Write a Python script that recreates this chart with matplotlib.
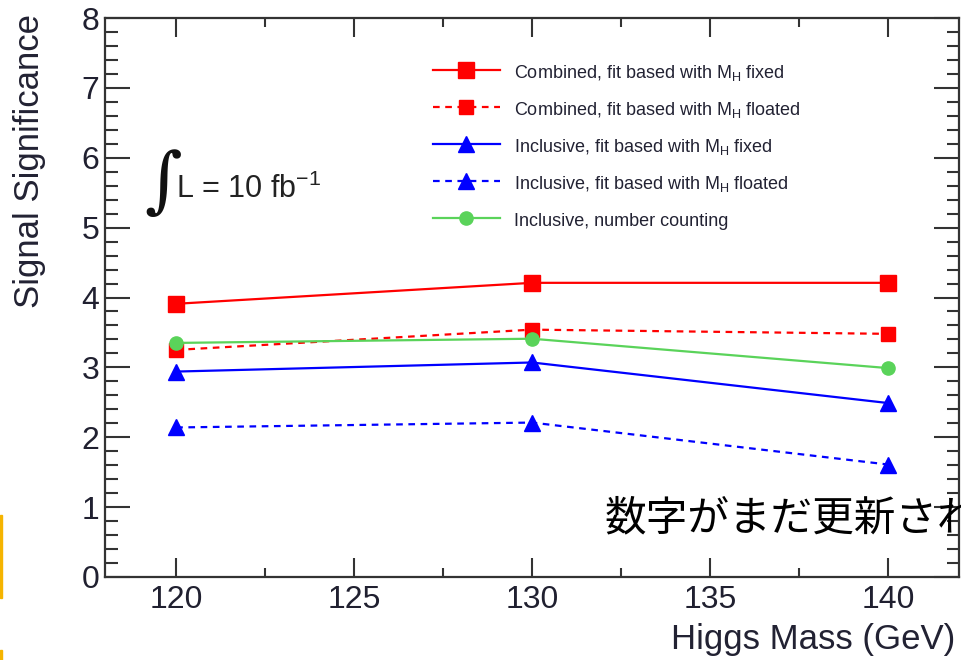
import numpy as np
import matplotlib
matplotlib.use("Agg")
import matplotlib.pyplot as plt
from matplotlib.ticker import MultipleLocator
from matplotlib.patches import Rectangle

# Higgs mass points (GeV)
mass = [120, 130, 140]

# signal significance per method
comb_fixed = [3.91, 4.21, 4.21]
comb_float = [3.25, 3.54, 3.48]
incl_fixed = [2.94, 3.07, 2.49]
incl_float = [2.14, 2.21, 1.61]
incl_count = [3.35, 3.41, 2.99]

labels = [
    r'Combined, fit based with M$_\mathregular{H}$ fixed',
    r'Combined, fit based with M$_\mathregular{H}$ floated',
    r'Inclusive, fit based with M$_\mathregular{H}$ fixed',
    r'Inclusive, fit based with M$_\mathregular{H}$ floated',
    'Inclusive, number counting',
]

plt.rcParams['font.family'] = ['Liberation Sans', 'DejaVu Sans']
plt.rcParams['mathtext.fontset'] = 'custom'
plt.rcParams['mathtext.rm'] = 'Liberation Sans'

W, H = 961, 660
fig = plt.figure(figsize=(W / 100, H / 100), dpi=100)
ax = fig.add_axes([105 / W, 1 - 577 / H, (959 - 105) / W, (577 - 18) / H])

dash = (0, (3, 2.5))
ax.plot(mass, comb_fixed, color='#ff0000', lw=1.6, marker='s', ms=12, label=labels[0])
ax.plot(mass, comb_float, color='#ff0000', lw=1.6, ls=dash, marker='s', ms=9.5, label=labels[1])
ax.plot(mass, incl_fixed, color='#0000ff', lw=1.6, marker='^', ms=12, label=labels[2])
ax.plot(mass, incl_float, color='#0000ff', lw=1.6, ls=dash, marker='^', ms=12, label=labels[3])
ax.plot(mass, incl_count, color='#5ad35a', lw=1.6, marker='o', ms=9.5, label=labels[4])

ax.set_xlim(118, 142)
ax.set_ylim(0, 8)
ax.xaxis.set_major_locator(MultipleLocator(5))
ax.xaxis.set_minor_locator(MultipleLocator(2.5))
ax.yaxis.set_major_locator(MultipleLocator(1))
ax.yaxis.set_minor_locator(MultipleLocator(0.2))

ax.tick_params(which='both', direction='in', top=True, right=True,
               width=1.5, color='#333333', labelcolor='#202030')
ax.tick_params(axis='y', which='major', length=18, labelsize=23, pad=4)
ax.tick_params(axis='y', which='minor', length=9)
ax.tick_params(axis='x', which='major', length=14, labelsize=23, pad=6)
ax.tick_params(axis='x', which='minor', length=6.5)
for s in ax.spines.values():
    s.set_linewidth(1.6)
    s.set_color('#333333')

leg = ax.legend(loc='upper left', bbox_to_anchor=(433 / W, 1 - 62 / H),
                bbox_transform=fig.transFigure, frameon=False, fontsize=13,
                handlelength=3.7, handleheight=1.35, handletextpad=0.8,
                labelspacing=0.88, borderpad=0, borderaxespad=0)
for t in leg.get_texts():
    t.set_color('#222233')

# integrated luminosity label
fig.text(144 / W, 1 - 184 / H, '\u222b', family='DejaVu Serif', fontsize=52,
         ha='left', va='center', color='#111111')
fig.text(176 / W, 1 - 189 / H, r'L = 10 fb$^\mathregular{-1}$', fontsize=22,
         ha='left', va='center', color='#222222')

fig.text(30 / W, 1 - 14 / H, 'Signal Significance', rotation=90, fontsize=25,
         ha='center', va='top', color='#222233')
fig.text(955 / W, 1 - 639 / H, 'Higgs Mass (GeV)', fontsize=25,
         ha='right', va='center', color='#222233')

# overlaid slide note, clipped at the right edge as in the source slide
fig.text(605 / W, 1 - 519 / H, '数字がまだ更新され', fontsize=30,
         family=['Noto Sans CJK JP', 'DejaVu Sans'], ha='left', va='center',
         color='black')

# slide decoration at the left edge
fig.patches.append(Rectangle((0, 1 - 598 / H), 2 / W, 83 / H, transform=fig.transFigure,
                             color='#f5b400', zorder=5))
fig.patches.append(Rectangle((0, 0), 2 / W, 10 / H, transform=fig.transFigure,
                             color='#f5b400', zorder=5))

fig.savefig('out.png', dpi=100)
